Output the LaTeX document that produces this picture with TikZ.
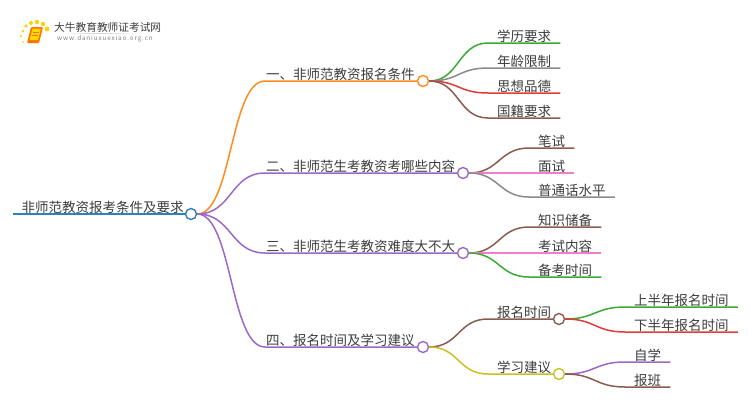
\documentclass[tikz,border=0pt]{standalone}
\usepackage{fontspec}
\setmainfont{Noto Sans CJK SC}
\definecolor{txtgray}{HTML}{3C3C3C}
\definecolor{cOrange}{HTML}{FF8C1E}
\definecolor{cPurple}{HTML}{9A68C8}
\definecolor{cBlue}{HTML}{2F80BE}
\definecolor{cGreen}{HTML}{3BAA35}
\definecolor{cGray}{HTML}{8A8A8A}
\definecolor{cRed}{HTML}{E23B3B}
\definecolor{cBrown}{HTML}{8C5B50}
\definecolor{cPink}{HTML}{EE7FC8}
\definecolor{cOlive}{HTML}{C9C025}
\tikzset{
	lab/.style={anchor=south west, inner xsep=9pt, inner ysep=0pt, text=txtgray, font=\fontsize{13.5}{13.5}\selectfont},
	mainlab/.style={lab, inner xsep=1pt},
	dot/.style={draw, circle, fill=white, line width=1.4pt, minimum size=11pt, inner sep=0pt},
	link/.style={line width=1.5pt, out=0, in=180, distance=30pt},
}
\begin{document}
\begin{tikzpicture}[x=1pt, y=-1pt]
	\useasboundingbox (0,0) rectangle (750,410);
	
	% logo
	\foreach \px/\py/\pr in {23/31/1.5, 26/26/1.8, 31/23/2, 37/22/2.2, 43/24/2.2, 47/29/2.4, 21/36/1.2, 23/42/1}
		\fill[yellow!70!orange] (\px,\py) circle (\pr);
	\fill[orange!90!red, rounded corners=1pt] (31,27) -- (43,27) -- (39,43) -- (27,43) -- cycle;
	\fill[yellow!75!orange, rounded corners=0.5pt] (32.5,28.5) -- (41,28.5) -- (38,40) -- (29.5,40) -- cycle;
	\draw[orange!90!red, line width=0.7pt] (33,32) -- (39,32) (32,35) -- (38,35);
	\shade[left color=white, right color=white, middle color=gray!35] (60,33) rectangle (140,33.8);
	\node[anchor=west, inner sep=0pt, text=txtgray, font=\fontsize{10.7}{10.7}\selectfont] (logotitle) at (54,27) {大牛教育教师证考试网};
	\node[anchor=west, inner sep=0pt, text=gray, font=\fontsize{6.3}{6.3}\selectfont] (logourl) at (57,39) {\addfontfeatures{LetterSpace=14}www.daniuxuexiao.org.cn};
	
	% root
	\coordinate (start) at (13,214);
	\node[anchor=south west, inner sep=0pt, text=txtgray, font=\fontsize{13.5}{13.5}\selectfont] (root) at (21.5,214) {非师范教资报考条件及要求};
	\node[dot, draw=cBlue] (rootdot) at (191,214) {};
	
	% first level
	\node[mainlab] (a) at (265,81) {一、非师范教资报名条件};
	\node[mainlab] (b) at (265,173) {二、非师范生考教资考哪些内容};
	\node[mainlab] (c) at (265,253) {三、非师范生考教资难度大不大};
	\node[mainlab] (d) at (265,347) {四、报名时间及学习建议};
	\node[dot, draw=cOrange] (adot) at (423,81) {};
	\node[dot, draw=cPurple] (bdot) at (463,173) {};
	\node[dot, draw=cPurple] (cdot) at (463,253) {};
	\node[dot, draw=cPurple] (ddot) at (423,347) {};
	
	% second level
	\node[lab] (a1) at (488,43) {学历要求};
	\node[lab] (a2) at (488,68) {年龄限制};
	\node[lab] (a3) at (488,93) {思想品德};
	\node[lab] (a4) at (488,118) {国籍要求};
	\node[lab] (b1) at (529,148) {笔试};
	\node[lab] (b2) at (529,173) {面试};
	\node[lab] (b3) at (529,197) {普通话水平};
	\node[lab] (c1) at (529,227) {知识储备};
	\node[lab] (c2) at (529,253) {考试内容};
	\node[lab] (c3) at (529,277) {备考时间};
	\node[lab] (d1) at (488,319) {报名时间};
	\node[lab] (d2) at (488,374) {学习建议};
	\node[dot, draw=cBrown] (d1dot) at (559,319) {};
	\node[dot, draw=cOlive] (d2dot) at (559,374) {};
	
	% third level
	\node[lab] (e1) at (625,307) {上半年报名时间};
	\node[lab] (e2) at (625,332) {下半年报名时间};
	\node[lab] (f1) at (625,362) {自学};
	\node[lab] (f2) at (625,387) {报班};
	
	\draw[line width=2pt, cBlue] (start) -- (rootdot);
	\draw[link, distance=35pt, cOrange] (rootdot.east) to (a.south west) -- (adot);
	\draw[link, distance=35pt, cPurple] (rootdot.east) to (b.south west) -- (bdot);
	\draw[link, distance=35pt, cPurple] (rootdot.east) to (c.south west) -- (cdot);
	\draw[link, distance=35pt, cPurple] (rootdot.east) to (d.south west) -- (ddot);
	
	\draw[link, cGreen] (adot.east) to (a1.south west) -- (a1.south east);
	\draw[link, cGray] (adot.east) to (a2.south west) -- (a2.south east);
	\draw[link, cRed] (adot.east) to (a3.south west) -- (a3.south east);
	\draw[link, cBrown] (adot.east) to (a4.south west) -- (a4.south east);
	\draw[link, cBrown] (bdot.east) to (b1.south west) -- (b1.south east);
	\draw[link, cPink] (bdot.east) to (b2.south west) -- (b2.south east);
	\draw[link, cGray] (bdot.east) to (b3.south west) -- (b3.south east);
	\draw[link, cBrown] (cdot.east) to (c1.south west) -- (c1.south east);
	\draw[link, cPink] (cdot.east) to (c2.south west) -- (c2.south east);
	\draw[link, cGreen] (cdot.east) to (c3.south west) -- (c3.south east);
	\draw[link, cBrown] (ddot.east) to (d1.south west) -- (d1dot);
	\draw[link, cOlive] (ddot.east) to (d2.south west) -- (d2dot);
	\draw[link, cGreen] (d1dot.east) to (e1.south west) -- (e1.south east);
	\draw[link, cRed] (d1dot.east) to (e2.south west) -- (e2.south east);
	\draw[link, cPurple] (d2dot.east) to (f1.south west) -- (f1.south east);
	\draw[link, cBrown] (d2dot.east) to (f2.south west) -- (f2.south east);
\end{tikzpicture}
\end{document}
